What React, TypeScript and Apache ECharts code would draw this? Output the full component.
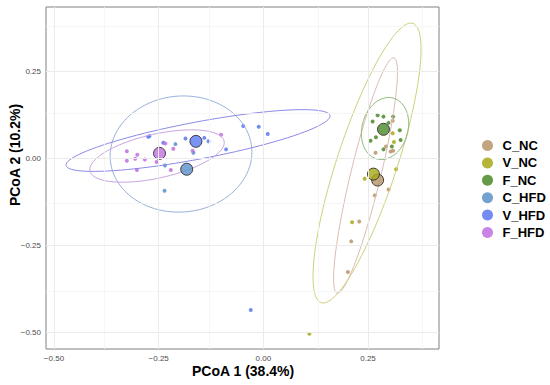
import React, { useEffect, useRef } from "react";
import * as echarts from "echarts";

// ---- data ----
const groups = ["C_NC", "V_NC", "F_NC", "C_HFD", "V_HFD", "F_HFD"];
const pointColors = ["#b89468", "#a8a818", "#4a8a28", "#5a90c8", "#5a78f0", "#c070e0"];
const ellipseColors = ["#dcbcb4", "#cfcf7c", "#8cba78", "#9ab2da", "#8c8ae8", "#caa4e2"];

const xMajor = [-0.5, -0.25, 0, 0.25];
const xMinor = [-0.375, -0.125, 0.125, 0.375];
const yMajor = [-0.5, -0.25, 0, 0.25];
const yMinor = [-0.375, -0.125, 0.125, 0.375];

const cNcPoints = [
  [0.309, 0.108], [0.293, 0.034], [0.31, 0.022], [0.304, 0.02], [0.268, 0.016],
  [0.299, -0.089], [0.266, -0.106], [0.229, -0.181], [0.21, -0.238], [0.202, -0.326],
];
const vNcPoints = [
  [0.309, 0.072], [0.312, 0.047], [0.317, -0.031], [0.242, -0.058], [0.212, -0.183], [0.11, -0.503],
];
const fNcPoints = [
  [0.261, 0.106], [0.273, 0.124], [0.287, 0.12], [0.31, 0.12], [0.299, 0.102], [0.326, 0.081],
  [0.269, 0.061], [0.256, 0.051], [0.307, 0.034], [0.287, 0.026], [0.328, 0.053],
];
const cHfdPoints = [
  [-0.235, -0.02], [-0.167, 0.016], [-0.236, -0.093], [-0.21, 0.041],
];
const vHfdPoints = [
  [-0.275, 0.062], [-0.272, 0.064], [-0.239, 0.045], [-0.186, 0.057], [-0.141, 0.059],
  [-0.131, 0.049], [-0.089, 0.026], [-0.048, 0.093], [-0.011, 0.091], [0.0105, 0.07], [-0.03, -0.435],
];
const fHfdPoints = [
  [-0.326, 0.0204], [-0.326, -0.0066], [-0.306, -0.0009], [-0.301, 0.0106], [-0.302, -0.033],
  [-0.283, -0.003], [-0.255, -0.01], [-0.221, -0.033], [-0.234, 0.043], [-0.215, 0.028],
  [-0.101, 0.068], [-0.169, 0.022],
];
const groupPoints = [cNcPoints, vNcPoints, fNcPoints, cHfdPoints, vHfdPoints, fHfdPoints];

const centroids = [
  [0.273, -0.062], [0.263, -0.045], [0.287, 0.0835], [-0.183, -0.031], [-0.161, 0.049], [-0.248, 0.0146],
];

// ellipse: centre x, centre y, semi-axis vector A (x,y), semi-axis vector B (x,y), in data units
const ellipses = [
  [0.2441, -0.0491, 0.0679, 0.3375, -0.0348, 0.0101],
  [0.2477, -0.0132, 0.1096, 0.4007, -0.0681, 0.0269],
  [0.2907, 0.0858, 0.01947, 0.0873, -0.05306, 0.01708],
  [-0.1966, 0.0126, 0.1689, 0.0177, -0.0121, 0.1658],
  [-0.156, 0.0514, 0.3152, 0.0716, -0.0082, 0.0522],
  [-0.2539, 0.0069, 0.1601, 0.043, -0.01145, 0.0616],
];

const FONT = "'Liberation Sans', Arial, sans-serif";
const fmt = (v: number) => (v < 0 ? "\u2212" : "") + Math.abs(v).toFixed(2);

export default function App() {
  const ref = useRef<HTMLDivElement>(null);
  useEffect(() => {
    document.body.style.margin = "0";
    if (!ref.current) return;
    const chart = echarts.init(ref.current, undefined, { renderer: "svg" });

    const gridLines = {
      type: "scatter",
      data: [],
      silent: true,
      z: 1,
      markLine: {
        silent: true,
        symbol: ["none", "none"],
        label: { show: false },
        animation: false,
        data: [
          ...xMinor.map((v) => ({ xAxis: v, lineStyle: { color: "#f4f4f4", width: 0.8, type: "solid" } })),
          ...yMinor.map((v) => ({ yAxis: v, lineStyle: { color: "#f4f4f4", width: 0.8, type: "solid" } })),
          ...xMajor.map((v) => ({ xAxis: v, lineStyle: { color: "#ebebeb", width: 1, type: "solid" } })),
          ...yMajor.map((v) => ({ yAxis: v, lineStyle: { color: "#ebebeb", width: 1, type: "solid" } })),
        ],
      },
    };

    const pointSeries = groups.map((g, i) => ({
      type: "scatter",
      name: g,
      data: groupPoints[i],
      symbolSize: 4,
      itemStyle: { color: pointColors[i], opacity: 0.85 },
      z: 2,
      silent: true,
    }));

    const ellipseSeries = groups.map((g, i) => ({
      type: "custom",
      name: g,
      data: [ellipses[i]],
      dimensions: ["cx", "cy", "ax", "ay", "bx", "by"],
      encode: { x: 0, y: 1 },
      clip: true,
      z: 3,
      silent: true,
      renderItem: (params: any, api: any) => {
        const cx = api.value(0), cy = api.value(1);
        const ax = api.value(2), ay = api.value(3);
        const bx = api.value(4), by = api.value(5);
        const pts: number[][] = [];
        for (let k = 0; k < 96; k++) {
          const t = (2 * Math.PI * k) / 96;
          pts.push(api.coord([cx + ax * Math.cos(t) + bx * Math.sin(t), cy + ay * Math.cos(t) + by * Math.sin(t)]));
        }
        return {
          type: "polygon",
          shape: { points: pts },
          style: { fill: "none", stroke: ellipseColors[i], lineWidth: 1 },
        };
      },
    }));

    const centroidSeries = groups.map((g, i) => ({
      type: "scatter",
      name: g,
      data: [centroids[i]],
      symbolSize: 12,
      itemStyle: { color: pointColors[i], borderColor: "#1a1a1a", borderWidth: 1 },
      z: 4,
      silent: true,
    }));

    chart.setOption({
      animation: false,
      backgroundColor: "#ffffff",
      textStyle: { fontFamily: FONT },
      grid: {
        left: 46,
        right: 111,
        top: 7,
        bottom: 36,
        show: true,
        backgroundColor: "#ffffff",
        borderColor: "#808080",
        borderWidth: 1,
      },
      xAxis: {
        type: "value",
        min: -0.5191,
        max: 0.4196,
        axisLine: { show: false },
        splitLine: { show: false },
        axisTick: { show: true, length: 3, customValues: xMajor, lineStyle: { color: "#555555" } },
        axisLabel: { customValues: xMajor, formatter: fmt, color: "#4d4d4d", fontSize: 8, margin: 5, fontFamily: FONT },
      },
      yAxis: {
        type: "value",
        min: -0.5468,
        max: 0.4345,
        axisLine: { show: false },
        splitLine: { show: false },
        axisTick: { show: true, length: 3, customValues: yMajor, lineStyle: { color: "#555555" } },
        axisLabel: { customValues: yMajor, formatter: fmt, color: "#4d4d4d", fontSize: 8, margin: 5, fontFamily: FONT },
      },
      legend: {
        orient: "vertical",
        left: 477,
        top: 134,
        itemWidth: 20,
        itemHeight: 11,
        itemGap: 4.4,
        icon: "circle",
        selectedMode: false,
        textStyle: { fontSize: 13, fontWeight: "bold", color: "#000000", fontFamily: FONT },
        data: groups.map((g, i) => ({ name: g, itemStyle: { color: pointColors[i], borderWidth: 0 } })),
      },
      graphic: [
        {
          type: "text",
          left: 192,
          top: 364,
          style: { text: "PCoA 1 (38.4%)", font: "bold 14px " + FONT, fill: "#000000" },
        },
        {
          type: "text",
          x: 15,
          y: 155,
          rotation: Math.PI / 2,
          style: {
            text: "PCoA 2 (10.2%)",
            font: "bold 14px " + FONT,
            fill: "#000000",
            align: "center",
            verticalAlign: "middle",
          },
        },
      ],
      series: [gridLines, ...pointSeries, ...ellipseSeries, ...centroidSeries],
    });
    return () => chart.dispose();
  }, []);
  return <div ref={ref} style={{ width: 550, height: 385 }} />;
}
